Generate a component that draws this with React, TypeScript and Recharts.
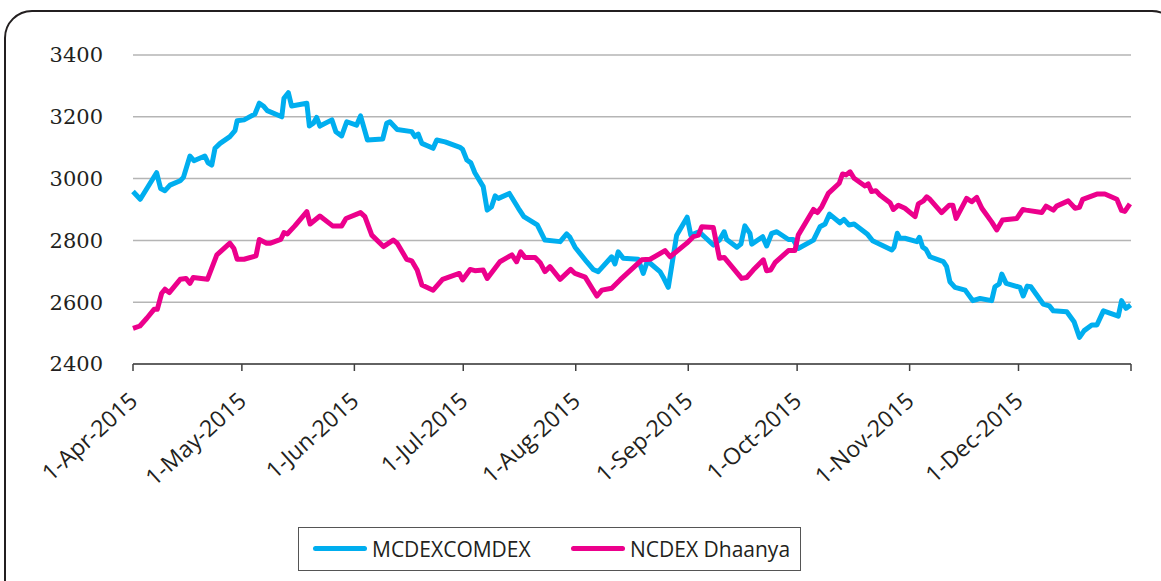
import { LineChart, Line, XAxis, YAxis, CartesianGrid } from "recharts";

// days counted from 1-Apr-2015
const mcxDays = [
  0, 2, 6.5, 7.6, 8.8, 10.2, 13, 13.9, 15.7, 16.8, 19.8, 20.7, 21.7, 22.6, 24, 26.7, 28.1, 28.7,
  30.6, 33.6, 34.8, 35.9, 37, 41, 41.6, 42.8, 43.7, 47.9, 48.6, 49.7, 50.6, 51.5, 54.8, 55.9, 57.5,
  58.9, 61.6, 62.7, 64.6, 68.8, 69.9, 70.8, 72.8, 76.8, 77.7, 78.6, 79.6, 82.7, 83.7, 86, 90.1,
  90.8, 92, 93.1, 94.2, 96.5, 97.6, 98.8, 99.8, 100.7, 103.7, 106.2, 107.7, 111.4, 113.5, 117.7,
  119.5, 120.4, 121.8, 125, 126.8, 128.2, 131.9, 132.8, 133.7, 135.1, 139.2, 140.6, 141.6, 142.5,
  145.2, 146.1, 147.5, 149.8, 152.7, 153.7, 156, 159.9, 161.6, 162.9, 163.6, 166.4, 167.5, 168.6,
  170, 170.5, 173.5, 174.6, 176, 177.4, 180.6, 181.9, 183.3, 187.5, 189.3, 190.7, 191.9, 194.8,
  195.9, 197.3, 198.7, 202.3, 203.8, 209.1, 209.7, 210.6, 211.3, 212.7, 216, 216.7, 217.6, 218.5,
  219.6, 223.3, 224.2, 225.1, 226.5, 229.3, 231.4, 233.4, 236.6, 237.5, 238.7, 239.4, 240.6,
  244.4, 245.3, 246.4, 247.4, 250.8, 252.5, 253.6, 257.3, 259.3, 260.8, 262.1, 264.2, 265.6,
  267.4, 271.5, 272.4, 273.6, 274.9,
];
const mcxValues = [
  2958, 2933, 3019, 2968, 2961, 2979, 2993, 3004, 3073, 3058, 3073, 3051, 3044, 3098, 3114, 3136,
  3155, 3187, 3190, 3209, 3244, 3235, 3220, 3200, 3260, 3278, 3235, 3244, 3170, 3179, 3198, 3170,
  3190, 3152, 3138, 3184, 3173, 3203, 3125, 3128, 3179, 3184, 3159, 3152, 3136, 3144, 3114, 3098,
  3125, 3119, 3101, 3095, 3060, 3051, 3019, 2974, 2898, 2909, 2944, 2936, 2952, 2904, 2877, 2850,
  2801, 2796, 2821, 2810, 2778, 2731, 2706, 2699, 2747, 2724, 2763, 2742, 2739, 2693, 2728, 2726,
  2699, 2681, 2648, 2817, 2875, 2817, 2828, 2785, 2801, 2828, 2803, 2778, 2788, 2847, 2823, 2788,
  2812, 2782, 2823, 2828, 2803, 2803, 2774, 2801, 2844, 2853, 2885, 2857, 2868, 2850, 2853, 2821,
  2799, 2769, 2778, 2823, 2807, 2807, 2796, 2810, 2778, 2771, 2747, 2731, 2715, 2666, 2648, 2639,
  2605, 2612, 2605, 2650, 2659, 2691, 2661, 2648, 2620, 2652, 2650, 2594, 2588, 2572, 2569, 2537,
  2486, 2508, 2526, 2526, 2572, 2555, 2605, 2580, 2591,
];

const ncdDays = [
  0, 1.9, 3.8, 5.8, 6.7, 7.9, 8.8, 10, 13, 14.6, 15.7, 16.6, 20.5, 23.1, 26.7, 27.8, 28.7, 30.6,
  33.9, 34.8, 36.8, 37.9, 40.7, 41.6, 42.5, 44.6, 47.9, 48.8, 51.5, 55, 57.5, 58.7, 62.7, 63.9,
  65.8, 69, 71.7, 72.8, 75.4, 76.8, 78.3, 79.6, 82.7, 85.3, 89.9, 90.8, 92.9, 94.2, 96.5, 97.6,
  101.1, 104.4, 105.7, 106.8, 108, 110.8, 112.2, 113.5, 114.9, 117.7, 120.6, 121.8, 124.6, 127.8,
  129.2, 131.9, 134.2, 140.2, 142.5, 146.6, 148, 152.6, 154.4, 155.8, 156.7, 159.9, 161.6, 162.9,
  167.7, 169.1, 170.9, 173.7, 174.6, 175.7, 176.9, 180.6, 182.4, 183.3, 187.5, 188.6, 189.8,
  191.6, 194.6, 195.5, 196.5, 197.6, 198.7, 201.7, 202.6, 203.5, 204.7, 205.8, 208.6, 209.5,
  210.9, 212.7, 215.5, 216.4, 217.8, 218.7, 219.6, 222.8, 224.9, 225.9, 226.8, 229.7, 231.1,
  232.5, 233.9, 236.6, 238, 239.6, 243.5, 245.2, 246.1, 250.4, 251.6, 253.6, 254.5, 257.7, 259.6,
  260.8, 261.7, 265.6, 267.8, 271.1, 272.4, 273.3, 274.7,
];
const ncdValues = [
  2515, 2523, 2548, 2577, 2577, 2629, 2642, 2631, 2674, 2677, 2661, 2680, 2674, 2753, 2791, 2774,
  2739, 2739, 2750, 2803, 2791, 2791, 2803, 2825, 2821, 2847, 2893, 2853, 2879, 2847, 2847, 2871,
  2890, 2877, 2817, 2780, 2801, 2791, 2739, 2734, 2704, 2656, 2639, 2674, 2693, 2672, 2706, 2702,
  2704, 2677, 2731, 2753, 2731, 2763, 2745, 2745, 2728, 2699, 2715, 2674, 2706, 2693, 2681, 2620,
  2639, 2645, 2672, 2737, 2739, 2767, 2747, 2791, 2812, 2817, 2844, 2842, 2742, 2745, 2677, 2680,
  2704, 2737, 2702, 2704, 2728, 2767, 2767, 2817, 2900, 2890, 2909, 2952, 2985, 3015, 3012, 3022,
  3001, 2976, 2983, 2958, 2961, 2947, 2922, 2900, 2914, 2904, 2877, 2918, 2928, 2941, 2933, 2890,
  2914, 2914, 2871, 2936, 2925, 2939, 2904, 2860, 2834, 2866, 2871, 2900, 2898, 2890, 2911, 2898,
  2911, 2928, 2904, 2907, 2933, 2950, 2950, 2933, 2897, 2894, 2918,
];

const monthTicks = [0, 30, 61, 91, 122, 153, 183, 214, 244, 275];
const monthLabels = [
  "1-Apr-2015", "1-May-2015", "1-Jun-2015", "1-Jul-2015", "1-Aug-2015",
  "1-Sep-2015", "1-Oct-2015", "1-Nov-2015", "1-Dec-2015", "",
];
const valueTicks = [2400, 2600, 2800, 3000, 3200, 3400];

const BLUE = "#00aeef";
const PINK = "#ec008c";

const mcxData = mcxDays.map((day, i) => ({ day, value: mcxValues[i] }));
const ncdData = ncdDays.map((day, i) => ({ day, value: ncdValues[i] }));

function MonthTick({ x, y, index }: any) {
  const label = monthLabels[index] ?? "";
  const ax = x + 6;
  const ay = y + 30;
  return (
    <text
      x={ax}
      y={ay}
      transform={`rotate(-42, ${ax}, ${ay})`}
      textAnchor="end"
      fontFamily="'Open Sans', sans-serif"
      fontSize={23}
      fill="#231f20"
    >
      {label}
    </text>
  );
}

export default function App() {
  return (
    <div
      style={{
        position: "absolute",
        left: 0,
        top: 0,
        width: 1161,
        height: 581,
        overflow: "hidden",
        background: "#fff",
      }}
    >
      <div
        style={{
          position: "absolute",
          left: 4,
          top: 10,
          width: 1172,
          height: 620,
          border: "2.5px solid #231f20",
          borderRadius: 28,
        }}
      />
      <div style={{ position: "absolute", left: 0, top: 0 }}>
        <LineChart
          width={1161}
          height={581}
          margin={{ top: 55, right: 30, left: 33, bottom: 157 }}
        >
          <CartesianGrid vertical={false} stroke="#b5b5b5" strokeWidth={1.5} />
          <XAxis
            type="number"
            dataKey="day"
            domain={[0, 275]}
            ticks={monthTicks}
            interval={0}
            height={60}
            tickSize={7}
            axisLine={{ stroke: "#404040", strokeWidth: 1.5 }}
            tickLine={{ stroke: "#404040", strokeWidth: 1.5 }}
            tick={<MonthTick />}
            allowDuplicatedCategory={false}
          />
          <YAxis
            type="number"
            domain={[2400, 3400]}
            ticks={valueTicks}
            width={100}
            axisLine={false}
            tickLine={false}
            tickSize={0}
            tickMargin={30}
            tick={{ fontFamily: "'DejaVu Serif', serif", fontSize: 21, fill: "#231f20" }}
          />
          <Line
            data={mcxData}
            dataKey="value"
            name="MCDEXCOMDEX"
            stroke={BLUE}
            strokeWidth={5}
            dot={false}
            strokeLinejoin="round"
            isAnimationActive={false}
          />
          <Line
            data={ncdData}
            dataKey="value"
            name="NCDEX Dhaanya"
            stroke={PINK}
            strokeWidth={5}
            dot={false}
            strokeLinejoin="round"
            isAnimationActive={false}
          />
        </LineChart>
      </div>
      <div
        style={{
          position: "absolute",
          left: 298,
          top: 527,
          width: 503,
          height: 44,
          border: "1.5px solid #555",
          boxSizing: "border-box",
          fontFamily: "'Open Sans', sans-serif",
          fontSize: 21,
          color: "#231f20",
        }}
      >
        {[
          { label: "MCDEXCOMDEX", color: BLUE, left: 14 },
          { label: "NCDEX Dhaanya", color: PINK, left: 272 },
        ].map((item) => (
          <div
            key={item.label}
            style={{
              position: "absolute",
              left: item.left,
              top: 0,
              height: 41,
              display: "flex",
              alignItems: "center",
            }}
          >
            <span
              style={{
                display: "inline-block",
                width: 54,
                height: 5,
                borderRadius: 3,
                background: item.color,
                marginRight: 5,
              }}
            />
            <span>{item.label}</span>
          </div>
        ))}
      </div>
    </div>
  );
}
